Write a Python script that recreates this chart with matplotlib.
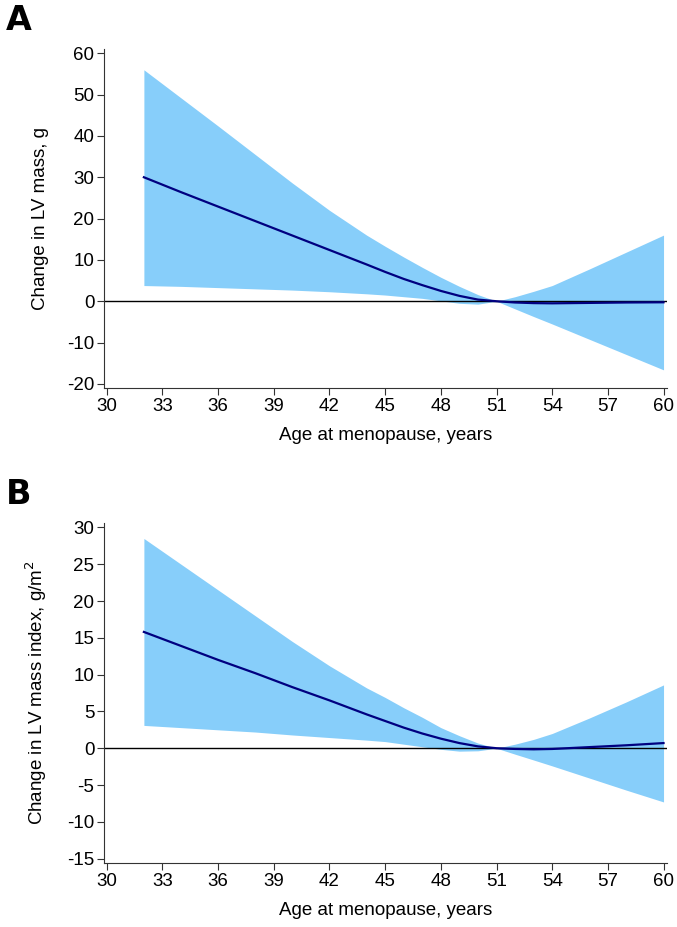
import matplotlib.pyplot as plt

plt.rcParams['font.family'] = ['Liberation Sans', 'DejaVu Sans']
plt.rcParams['axes.unicode_minus'] = False

age = [32, 34, 36, 38, 40, 42, 44, 45, 46, 47, 48, 49, 50, 51, 52, 53, 54, 56, 58, 60]

# panel A: LV mass, g
mass_fit = [30, 26.4, 22.9, 19.4, 15.9, 12.4, 8.9, 7.1, 5.4, 3.9, 2.5, 1.3, 0.4, 0, -0.3, -0.45, -0.5, -0.4, -0.3, -0.25]
mass_hi = [56, 49.2, 42.4, 35.5, 28.6, 22.0, 16.0, 13.3, 10.7, 8.2, 5.8, 3.6, 1.6, 0, 1.1, 2.4, 3.8, 7.8, 11.9, 16.0]
mass_lo = [3.8, 3.6, 3.3, 3.0, 2.7, 2.3, 1.8, 1.5, 1.1, 0.7, 0.1, -0.5, -0.7, 0, -1.85, -3.7, -5.5, -9.2, -12.9, -16.6]

# panel B: LV mass index, g/m2
idx_fit = [15.8, 13.9, 12.0, 10.2, 8.3, 6.5, 4.6, 3.7, 2.8, 2.0, 1.3, 0.7, 0.25, 0, -0.1, -0.15, -0.1, 0.15, 0.4, 0.7]
idx_hi = [28.5, 25.0, 21.5, 18.0, 14.5, 11.2, 8.2, 6.9, 5.5, 4.2, 2.8, 1.7, 0.7, 0, 0.55, 1.2, 2.0, 4.1, 6.3, 8.6]
idx_lo = [3.1, 2.8, 2.5, 2.2, 1.8, 1.45, 1.1, 0.9, 0.55, 0.2, -0.15, -0.4, -0.35, 0, -0.81, -1.6, -2.4, -4.05, -5.7, -7.3]

x_ticks = list(range(30, 61, 3))


def panel(ax, fit, lo, hi, ylim, yticks, ylabel, letter):
    ax.fill_between(age, lo, hi, color='#87cefa', linewidth=0)
    ax.axhline(0, color='black', linewidth=1)
    ax.plot(age, fit, color='#000080', linewidth=1.6)
    ax.set_xlim(29.85, 60.2)
    ax.set_ylim(*ylim)
    ax.set_xticks(x_ticks)
    ax.set_yticks(yticks)
    ax.spines['top'].set_visible(False)
    ax.spines['right'].set_visible(False)
    for s in ['left', 'bottom']:
        ax.spines[s].set_color('#333333')
    ax.tick_params(direction='out', length=5, labelsize=13.5, color='#333333', pad=2)
    ax.set_xlabel('Age at menopause, years', fontsize=13.5, labelpad=9)
    ax.set_ylabel(ylabel, fontsize=13.5, labelpad=13)
    ax.text(-0.175, 1.035, letter, transform=ax.transAxes, fontsize=24,
            fontweight='bold', family='DejaVu Sans', va='bottom', ha='left')


fig = plt.figure(figsize=(6.77, 9.27), dpi=100)
ax1 = fig.add_axes([0.1536, 0.5814, 0.832, 0.3656])
ax2 = fig.add_axes([0.1536, 0.069, 0.832, 0.3668])

panel(ax1, mass_fit, mass_lo, mass_hi, (-21, 61), range(-20, 61, 10),
      'Change in LV mass, g', 'A')
panel(ax2, idx_fit, idx_lo, idx_hi, (-15.6, 30.6), range(-15, 31, 5),
      'Change in LV mass index, g/m$^2$', 'B')

fig.savefig('out.png', dpi=100)
